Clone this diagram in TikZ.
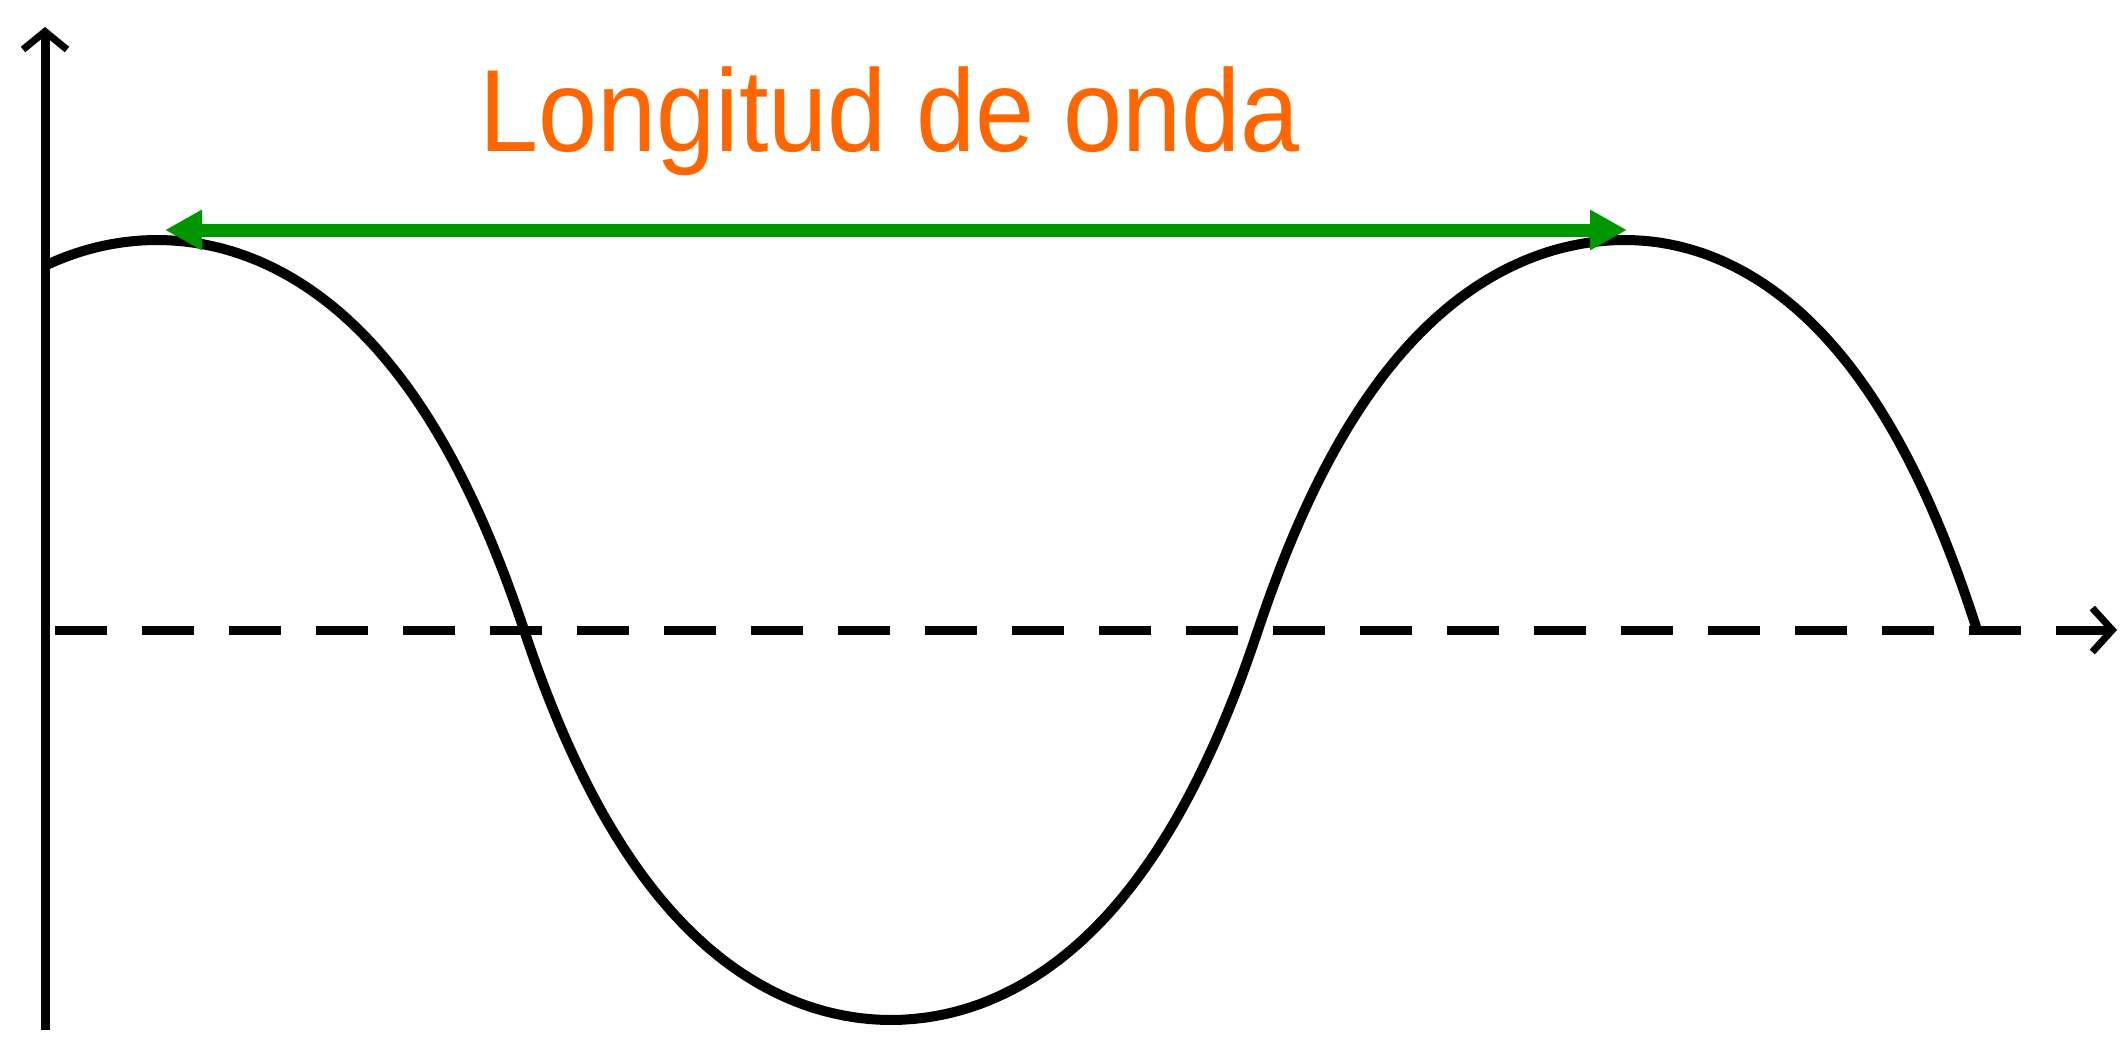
\documentclass[tikz,border=0pt]{standalone}
\usepackage{fontspec}
\setmainfont{Liberation Sans}
\usepackage{tikz}
\usetikzlibrary{arrows.meta,positioning,calc}
\definecolor{waveorange}{RGB}{255,102,0}
\definecolor{wavegreen}{RGB}{0,150,0}

\begin{document}
\begin{tikzpicture}[
    x=1pt, y=-1pt,
    declare function={sh(\c)=1.8*\c/(1+0.8*abs(\c));},
    axis/.style={line width=9pt, -{Straight Barb[length=18pt,width=44pt,line width=7pt]}},
    baseline/.style={line width=9pt, dash pattern=on 52pt off 35pt, -{Straight Barb[length=20pt,width=44pt,line width=7pt]}},
    wave/.style={line width=10pt, line join=round},
    span/.style={line width=13pt, wavegreen, {Triangle[length=37pt,width=38pt]}-{Triangle[length=37pt,width=38pt]}},
    title/.style={text=waveorange, font=\fontsize{117}{140}\selectfont, anchor=base, inner sep=0pt}
]
    \useasboundingbox (0,0) rectangle (2125,1039);

    \coordinate (ybot) at (45,1030);
    \coordinate (ytop) at (45,27);
    \coordinate (xleft) at (55,630);
    \coordinate (xright) at (2117,630);
    \coordinate (crestA) at (165,230);
    \coordinate (crestB) at (1627,230);

    \draw[axis] (ybot) -- (ytop);
    \draw[baseline] (xleft) -- (xright);
    % wave: full part, then the last quarter a little shorter
    \draw[wave] plot[domain=45:1625, samples=400] (\x, {630-390*sh(cos(((\x-157)/1468)*360))})
        -- plot[domain=1625:1977, samples=100] (\x, {630-390*sh(cos(((\x-1625)/352)*90))});

    \draw[span] (crestA) -- (crestB);
    \node[title] (label) at (890,151) {\scalebox{0.907}[1]{Longitud de onda}};
\end{tikzpicture}
\end{document}
